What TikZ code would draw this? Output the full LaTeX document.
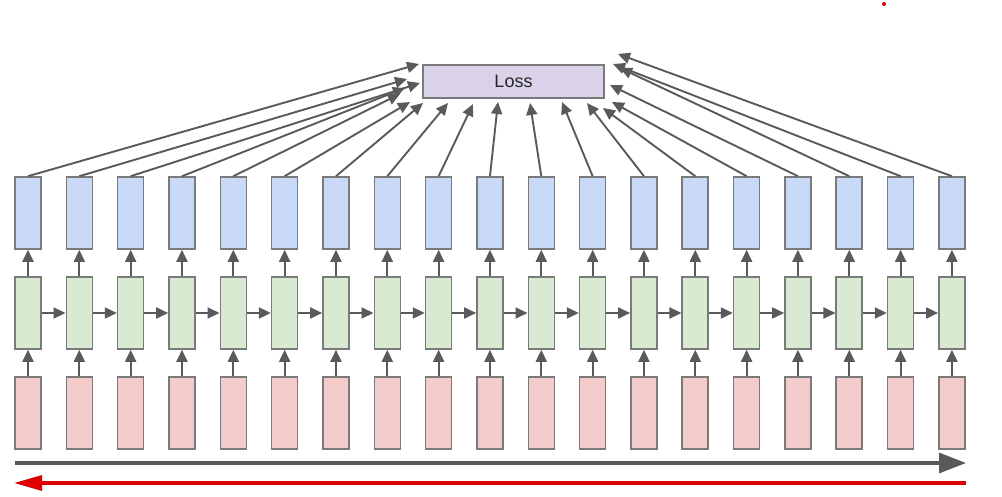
\documentclass[tikz,border=0pt]{standalone}
\usepackage{fontspec}
\setmainfont{Liberation Sans}
\usetikzlibrary{arrows.meta}
\definecolor{bluef}{HTML}{C9DAF8}
\definecolor{greenf}{HTML}{D9EAD3}
\definecolor{redf}{HTML}{F4CCCC}
\definecolor{lossf}{HTML}{D9D2E9}
\definecolor{edge}{HTML}{7A7A7A}
\definecolor{arr}{HTML}{5A5A5A}
\definecolor{redarr}{HTML}{E00000}
\tikzset{
  cell/.style={draw=edge, line width=1.6pt, minimum width=26pt, minimum height=72pt, inner sep=0pt},
  bluebox/.style={cell, fill=bluef},
  greenbox/.style={cell, fill=greenf},
  redbox/.style={cell, fill=redf},
  lossbox/.style={draw=edge, line width=1.6pt, fill=lossf, minimum width=181pt, minimum height=33pt, inner sep=0pt, font=\fontsize{18}{21}\selectfont, text=black!85},
  conn/.style={draw=arr, line width=1.9pt, -{Triangle[length=12pt,width=11pt]}},
  bigarrow/.style={draw=arr, line width=3.4pt, -{Triangle[length=27pt,width=20pt]}},
  redarrow/.style={draw=redarr, line width=3.2pt, -{Triangle[length=28pt,width=15pt]}}
}
\begin{document}
\begin{tikzpicture}[x=1pt,y=-1pt]
\useasboundingbox (0,0) rectangle (1002,497);
\fill[white] (0,0) rectangle (1002,497);
\node[lossbox] (loss) at (513.5,81.5) {Loss};
\foreach \i in {0,...,18}{
  \pgfmathsetmacro{\xx}{28+51.33*\i}
  \node[bluebox] (b\i) at (\xx,213) {};
  \node[greenbox] (g\i) at (\xx,313) {};
  \node[redbox] (r\i) at (\xx,413) {};
  \draw[conn] (r\i) -- (g\i);
  \draw[conn] (g\i) -- (b\i);
}
\foreach \i [evaluate=\i as \j using int(\i+1)] in {0,...,17}{
  \draw[conn] (g\i.east) -- (g\j.west);
}
\foreach \i/\ex/\ey in {0/419/64, 1/407/79, 2/420/83, 3/405/88, 4/400/94, 5/410/102, 6/423/103, 7/448/103, 8/473/104, 9/498/102, 10/530/103, 11/562/102, 12/587/103, 13/603/108, 14/612/102, 15/610/85, 16/620/68, 17/613/64, 18/618/54}{
  \coordinate (e\i) at (\ex,\ey);
  \draw[conn] (b\i.north) -- (e\i);
}
\coordinate (ga) at (15,463);
\coordinate (gb) at (966,463);
\draw[bigarrow] (ga) -- (gb);
\coordinate (ra) at (966,483);
\coordinate (rb) at (14,483);
\draw[redarrow] (ra) -- (rb);
\fill[redarr] (884,4) circle (2pt);
\end{tikzpicture}
\end{document}
